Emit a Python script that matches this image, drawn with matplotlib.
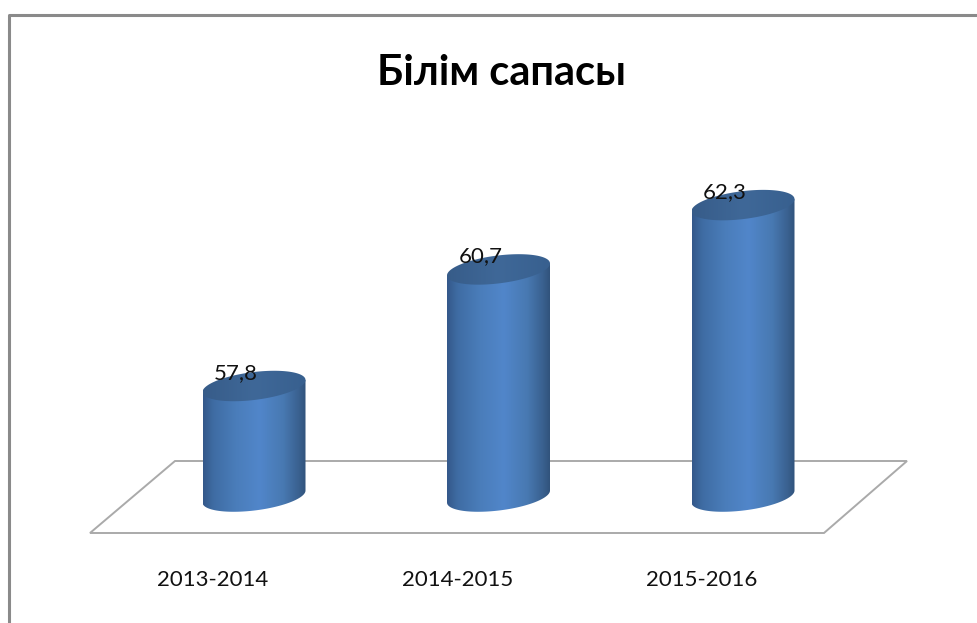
import numpy as np
import matplotlib
matplotlib.use('Agg')
import matplotlib.pyplot as plt
from matplotlib.colors import LinearSegmentedColormap
from matplotlib.patches import Polygon

categories = ['2013-2014', '2014-2015', '2015-2016']
values = [57.8, 60.7, 62.3]
value_labels = ['57,8', '60,7', '62,3']
title = 'Білім сапасы'

W, H = 977, 623
BASE = 55.05
X_STEP = 244.5   # pixels per category
Y_STEP = 40.2    # pixels per value unit
X0 = 254         # pixel of first category
Y0 = 386         # pixel of first value

plt.rcParams['font.family'] = ['Lato', 'Open Sans', 'DejaVu Sans']

fig = plt.figure(figsize=(W / 100, H / 100), dpi=100, facecolor='white')
ax = fig.add_axes([0, 0, 1, 1])
ax.axis('off')

xlim = (-X0 / X_STEP, (W - X0) / X_STEP)
ylim = (values[0] - (H - Y0) / Y_STEP, values[0] + Y0 / Y_STEP)


def px(x, y):
    # pixel position in the picture -> data position
    return xlim[0] + x / X_STEP, ylim[1] - y / Y_STEP


# frame, open on the right and at the bottom
ax.plot(*zip(px(8.5, H), px(8.5, 14.5), px(W, 14.5)), color='#8a8a8a', lw=2.2, zorder=1)

# floor
floor = Polygon([px(175, 461), px(907, 461), px(824, 533), px(90, 533)],
                closed=True, facecolor='white', edgecolor='#aaaaaa', lw=1.4, zorder=2)
ax.add_patch(floor)

side_cmap = LinearSegmentedColormap.from_list('side', [
    (0.0, '#34588a'), (0.1, '#3f6ca3'), (0.32, '#4a7dba'), (0.55, '#5186ca'),
    (0.78, '#4879b2'), (0.93, '#3a6190'), (1.0, '#31537c')])
top_cmap = LinearSegmentedColormap.from_list('top', ['#375c89', '#3f6898', '#38608f'])

half_w = 51.5 / X_STEP
rise = 6 / Y_STEP
minor = 14 / Y_STEP
t = np.linspace(0, 2 * np.pi, 200)

for i, v in enumerate(values):
    low = t[100:]   # lower half of ellipse, left to right
    bx = i + half_w * np.cos(low)
    by_bottom = BASE + rise * np.cos(low) + minor * np.sin(low)

    body = Polygon(np.column_stack([np.r_[bx, i + half_w, i - half_w],
                                    np.r_[by_bottom, v + rise, v - rise]]),
                   closed=True, facecolor='none', edgecolor='none', zorder=3)
    ax.add_patch(body)
    grad = np.linspace(0, 1, 256).reshape(1, -1)
    im = ax.imshow(grad, cmap=side_cmap, aspect='auto', zorder=3,
                   extent=(i - half_w, i + half_w, BASE - 1, v + 1))
    im.set_clip_path(body)

    lid = Polygon(np.column_stack([i + half_w * np.cos(t),
                                   v + rise * np.cos(t) + minor * np.sin(t)]),
                  closed=True, facecolor='none', edgecolor='none', zorder=4)
    ax.add_patch(lid)
    im2 = ax.imshow(grad, cmap=top_cmap, aspect='auto', zorder=4,
                    extent=(i - half_w, i + half_w, v - 1, v + 1))
    im2.set_clip_path(lid)

    ax.text(i - 18 / X_STEP, v + 13 / Y_STEP, value_labels[i], ha='center', va='center',
            fontsize=16, color='#111111', zorder=5)
    ax.text(i - 41 / X_STEP, px(0, 580)[1], categories[i], ha='center', va='center',
            fontsize=16, color='#111111', zorder=5)

ax.text(*px(501, 73), title, ha='center', va='center', fontsize=30, fontweight='bold',
        color='black', zorder=5)

ax.set_xlim(xlim)
ax.set_ylim(ylim)

fig.savefig('out.png', dpi=100)
